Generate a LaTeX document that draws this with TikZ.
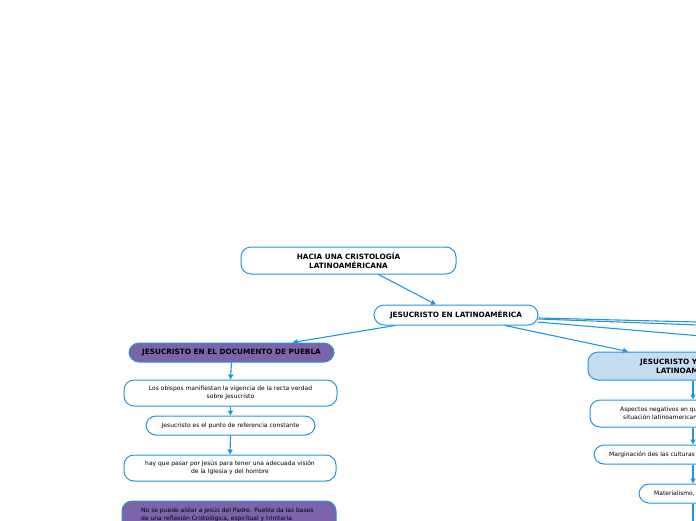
\documentclass[tikz,border=0pt]{standalone}
\usepackage{fontspec}
\setmainfont{DejaVu Sans}
\usetikzlibrary{arrows.meta}
\definecolor{edgeblue}{RGB}{33,150,224}
\definecolor{pufill}{RGB}{123,100,170}
\definecolor{lbfill}{RGB}{196,222,240}
\newcommand{\bigf}{\fontsize{7.3}{9}\selectfont\bfseries}
\newcommand{\smallf}{\fontsize{6}{8}\selectfont}
\tikzset{
  box/.style={draw=edgeblue, line width=1pt, rounded corners=10pt, fill=white, align=center, inner sep=0pt},
  boxb/.style={box, font=\bigf},
  boxs/.style={box, font=\smallf},
  conn/.style={draw=edgeblue, line width=1.1pt, -{Triangle[length=5pt,width=5pt]}},
  plain/.style={draw=edgeblue, line width=1.1pt},
  txt/.style={inner sep=0pt, anchor=west, align=left}
}
\begin{document}
\begin{tikzpicture}[x=1pt,y=-1pt]
\useasboundingbox (0,0) rectangle (696,520);
\clip (0,0) rectangle (696,520);
% main nodes
\node[boxb, minimum width=215pt, minimum height=27pt] (A) at (348.5,260.5) {HACIA UNA CRISTOLOGÍA\\LATINOAMÉRICANA};
\node[boxb, minimum width=164pt, minimum height=20pt] (B) at (456,315) {JESUCRISTO EN LATINOAMÉRICA};
% left branch
\node[boxb, fill=pufill, minimum width=205pt, minimum height=19pt] (C) at (231.5,352.5) {JESUCRISTO EN EL DOCUMENTO DE PUEBLA};
\node[boxs, minimum width=213pt, minimum height=26pt] (D) at (230.5,393) {Los obispos manifiestan la vigencia de la recta verdad\\sobre Jesucristo};
\node[boxs, minimum width=169pt, minimum height=19pt] (E) at (230.5,425.5) {Jesucristo es el punto de referencia constante};
\node[boxs, minimum width=212pt, minimum height=26pt] (F) at (230,468) {hay que pasar por Jesús para tener una adecuada visión\\de la Iglesia y del hombre};
\node[boxs, fill=pufill, minimum width=214pt, minimum height=32pt] (G) at (229,517) {};
\node[txt, font=\smallf] (Gt) at (141,515) {No se puede aislar a Jesús del Padre. Puebla da las bases\\de una reflexión Cristológica, espiritual y trinitaria};
% right branch (cut by the frame)
\node[box, fill=lbfill, minimum width=210pt, minimum height=28pt] (H) at (693,366) {};
\node[txt, font=\bigf] (Ht) at (640,366) {JESUCRISTO Y\\\hspace*{16pt}LATINOAM};
\node[box, minimum width=206pt, minimum height=27pt] (I) at (693,413.5) {};
\node[txt, font=\smallf] (It) at (620,413.5) {Aspectos negativos en qu\\\hspace*{3pt}situación latinoamerican};
\node[box, minimum width=198pt, minimum height=19pt] (J) at (693,454.5) {};
\node[txt, font=\smallf] (Jt) at (609,454.5) {Marginación des las culturas};
\node[box, minimum width=108pt, minimum height=19pt] (K) at (693,493.5) {};
\node[txt, font=\smallf] (Kt) at (654,493.5) {Materialismo,};
\coordinate (L) at (693,530);
% off-frame targets
\coordinate (o1) at (760,323.6);
\coordinate (o2) at (760,327.3);
\coordinate (o3) at (760,341);
% connectors
\draw[conn] ([xshift=30pt]A.south) -- ([xshift=-20pt]B.north);
\draw[conn] ([xshift=-61pt]B.south) -- ([xshift=61pt]C.north);
\draw[conn] ([xshift=49pt]B.south) -- ([xshift=-65pt]H.north);
\draw[plain] ([yshift=-3pt]B.east) -- (o1);
\draw[plain] ([yshift=-4pt]B.east) -- (o2);
\draw[plain] ([xshift=-1pt,yshift=-7pt]B.east) -- (o3);
\draw[conn] (C.south) -- (D.north);
\draw[conn] (D.south) -- (E.north);
\draw[conn] (E.south) -- (F.north);
\draw[conn] (H.south) -- (I.north);
\draw[conn] (I.south) -- (J.north);
\draw[conn] (J.south) -- (K.north);
\draw[conn] (K.south) -- (L);
\end{tikzpicture}
\end{document}
